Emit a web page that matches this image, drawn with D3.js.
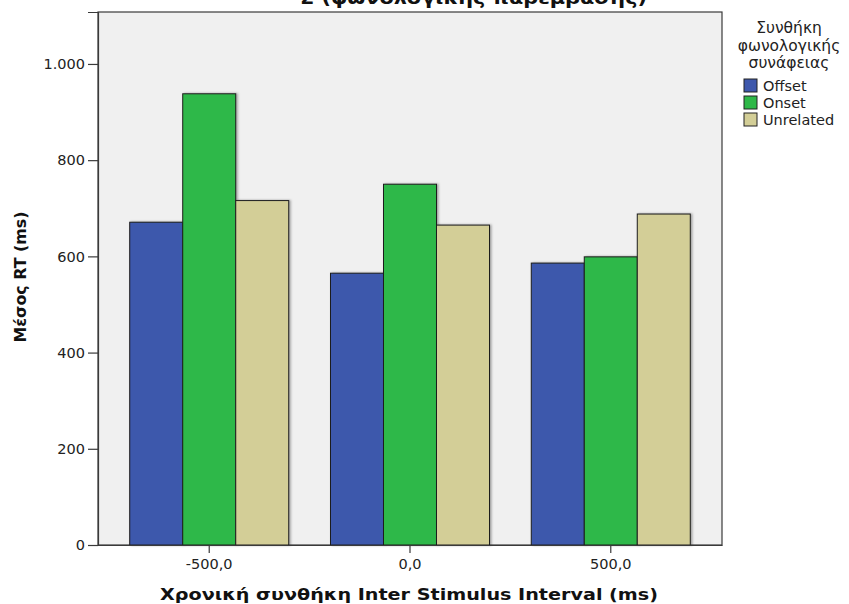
<!DOCTYPE html>
<html>
<head>
<meta charset="utf-8">
<script src="https://cdn.jsdelivr.net/npm/d3@7"></script>
<style>
  html, body { margin: 0; padding: 0; background: #ffffff; }
  svg { display: block; }
</style>
</head>
<body>
<svg id="chart" width="849" height="604"></svg>
<script>
// ---- data ----
const categories = ["-500,0", "0,0", "500,0"];
const seriesNames = ["Offset", "Onset", "Unrelated"];
const offsetValues = [671, 565, 586];
const onsetValues = [938, 750, 599];
const unrelatedValues = [716, 665, 688];
const yTickValues = [0, 200, 400, 600, 800, 1000];
const yTickLabels = ["0", "200", "400", "600", "800", "1.000"];
const yMax = 1108;
const seriesColors = ["#3E58AC", "#2EB848", "#D3CE97"];

const titleText = "Σ (φωνολογικής παρέμβασης)";
const xTitle = "Χρονική συνθήκη Inter Stimulus Interval (ms)";
const yTitle = "Μέσος RT (ms)";
const legendTitle = ["Συνθήκη", "φωνολογικής", "συνάφειας"];

const seriesValues = [offsetValues, onsetValues, unrelatedValues];

// ---- layout ----
const svg = d3.select("#chart");
const plot = { left: 98, right: 722, top: 12, bottom: 545 };
const font = "'DejaVu Sans', sans-serif";

const x0 = d3.scaleBand().domain(categories)
  .range([plot.left, plot.right]).paddingInner(0.208).paddingOuter(0.158);
const x1 = d3.scaleBand().domain(seriesNames).range([0, x0.bandwidth()]).padding(0);
const y = d3.scaleLinear().domain([0, yMax]).range([plot.bottom, plot.top]);
const color = d3.scaleOrdinal().domain(seriesNames).range(seriesColors);

// plot background
svg.append("rect")
  .attr("x", plot.left).attr("y", plot.top)
  .attr("width", plot.right - plot.left).attr("height", plot.bottom - plot.top)
  .attr("fill", "#F0F0F0").attr("stroke", "#3a3a3a").attr("stroke-width", 1.2);

// shadow filter for bars
const defs = svg.append("defs");
const f = defs.append("filter").attr("id", "shadow").attr("x", "-10%").attr("y", "-10%").attr("width", "130%").attr("height", "130%");
f.append("feDropShadow").attr("dx", 1.5).attr("dy", 0).attr("stdDeviation", 0.8)
  .attr("flood-color", "#000").attr("flood-opacity", 0.35);

// bars
const rows = categories.map((c, i) => ({
  cat: c,
  vals: seriesNames.map((s, j) => ({ series: s, value: seriesValues[j][i] }))
}));

const groups = svg.append("g").selectAll("g").data(rows).join("g")
  .attr("transform", d => `translate(${x0(d.cat)},0)`);

groups.selectAll("rect").data(d => d.vals).join("rect")
  .attr("x", d => x1(d.series))
  .attr("y", d => y(d.value))
  .attr("width", x1.bandwidth())
  .attr("height", d => y(0) - y(d.value))
  .attr("fill", d => color(d.series))
  .attr("stroke", "#1e1e1e").attr("stroke-width", 1)
  .attr("filter", "url(#shadow)");

// y axis
const yAxis = d3.axisLeft(y).tickValues(yTickValues)
  .tickFormat((d, i) => yTickLabels[i]).tickSize(10).tickPadding(3);
const gy = svg.append("g").attr("transform", `translate(${plot.left},0)`).call(yAxis);
gy.select(".domain").attr("stroke", "#3a3a3a").attr("stroke-width", 1.2);
gy.selectAll(".tick line").attr("stroke", "#3a3a3a").attr("stroke-width", 1.2);
gy.selectAll(".tick text").attr("font-family", font).attr("font-size", 14.5).attr("fill", "#222");

// x axis
const xAxis = d3.axisBottom(x0).tickSize(8).tickPadding(6).tickSizeOuter(0);
const gx = svg.append("g").attr("transform", `translate(0,${plot.bottom})`).call(xAxis);
gx.select(".domain").attr("stroke", "#3a3a3a").attr("stroke-width", 1.2);
gx.selectAll(".tick line").attr("stroke", "#3a3a3a").attr("stroke-width", 1.2);
gx.selectAll(".tick text").attr("font-family", font).attr("font-size", 14.5).attr("fill", "#222");

// axis titles
svg.append("text")
  .attr("x", 409).attr("y", 600)
  .attr("text-anchor", "middle")
  .attr("font-family", font).attr("font-weight", "bold").attr("font-size", 16)
  .attr("textLength", 498).attr("lengthAdjust", "spacingAndGlyphs")
  .attr("fill", "#111").text(xTitle);

svg.append("text")
  .attr("transform", "translate(26,277) rotate(-90)")
  .attr("text-anchor", "middle")
  .attr("font-family", font).attr("font-weight", "bold").attr("font-size", 15)
  .attr("textLength", 131).attr("lengthAdjust", "spacingAndGlyphs")
  .attr("fill", "#111").text(yTitle);

// title at top (cut off by the top edge, as in the reference)
svg.append("text")
  .attr("x", 300).attr("y", 4)
  .attr("text-anchor", "start")
  .attr("font-family", font).attr("font-weight", "bold").attr("font-size", 17)
  .attr("textLength", 347).attr("lengthAdjust", "spacingAndGlyphs")
  .attr("fill", "#111").text(titleText);

// legend
const legend = svg.append("g");
const legendTitleY = [33, 51, 68];
legend.selectAll("text.lt").data(legendTitle).join("text").attr("class", "lt")
  .attr("x", 789).attr("y", (d, i) => legendTitleY[i])
  .attr("text-anchor", "middle")
  .attr("font-family", font).attr("font-size", 15.5)
  .attr("fill", "#222").text(d => d);

const items = legend.selectAll("g.li").data(seriesNames).join("g").attr("class", "li")
  .attr("transform", (d, i) => `translate(744,${79 + i * 17})`);
items.append("rect").attr("width", 13).attr("height", 13)
  .attr("fill", d => color(d)).attr("stroke", "#222").attr("stroke-width", 1);
items.append("text").attr("x", 19).attr("y", 11.5)
  .attr("font-family", font).attr("font-size", 14.5).attr("fill", "#222")
  .text(d => d);
</script>
</body>
</html>
